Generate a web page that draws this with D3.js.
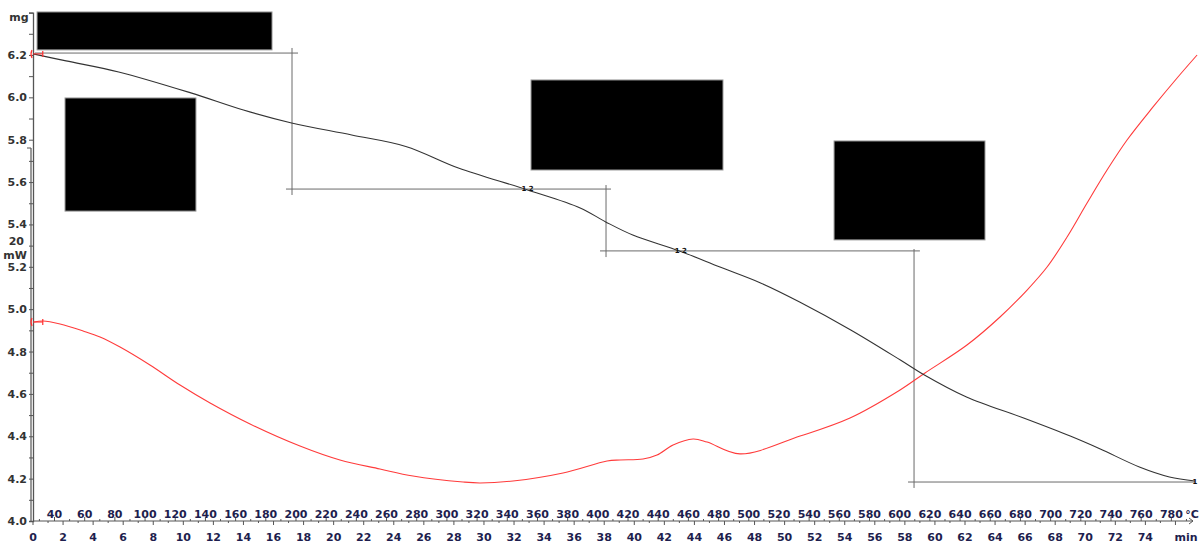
<!DOCTYPE html>
<html>
<head>
<meta charset="utf-8">
<script src="https://cdn.jsdelivr.net/npm/d3@7"></script>
<style>
  html, body { margin: 0; padding: 0; background: #fff; }
  svg { display: block; }
  text { font-family: "DejaVu Sans", Verdana, sans-serif; font-weight: bold; }
</style>
</head>
<body>
<svg id="chart" width="1199" height="543"></svg>
<script>
// ---- Data ----
// TGA curve: time (min) vs mass (mg)
const tgaTime = [0, 2.2, 5.7, 10.5, 14.0, 17.2, 21.2, 24.8, 28.3, 32.9, 36.4, 38.1, 39.9, 43.0, 45.7, 48.4, 51.0, 54.4, 57.7, 59.3, 62.1, 65.9, 69.0, 71.0, 73.6, 75.6, 77.3];
const tgaMass = [6.205, 6.172, 6.120, 6.021, 5.940, 5.879, 5.822, 5.768, 5.666, 5.563, 5.478, 5.412, 5.350, 5.275, 5.199, 5.124, 5.034, 4.902, 4.760, 4.689, 4.585, 4.486, 4.401, 4.340, 4.255, 4.208, 4.189];

// DSC curve: time (min) vs heat flow (mW)
const dscTime  = [0.07, 0.67, 1.80, 3.33, 4.46, 5.79, 7.78, 9.78, 11.78, 14.44, 17.76, 20.42, 23.08, 25.28, 28.61, 29.74, 31.93, 35.26, 38.19, 39.05, 40.58, 41.51, 42.58, 43.91, 44.84, 47.03, 51.03, 54.35, 57.68, 59.34, 62.13, 64.33, 66.13, 67.46, 68.79, 70.12, 71.45, 72.78, 74.51, 76.11, 77.44];
const dscPower = [11.68, 11.79, 11.47, 10.74, 10.11, 9.05, 7.16, 5.05, 3.16, 0.95, -1.37, -2.84, -3.79, -4.53, -5.16, -5.26, -5.05, -4.21, -2.95, -2.84, -2.74, -2.32, -1.26, -0.63, -0.95, -2.20, -0.32, 1.58, 4.53, 6.32, 9.26, 12.21, 15.05, 17.47, 20.63, 24.21, 27.68, 30.84, 34.32, 37.37, 39.79];

// Step evaluation lines (time in min, mass in mg)
const stepH = [ // horizontal: [mass, t0, t1]
  [6.209, 0.13, 17.63],
  [5.567, 16.83, 38.45],
  [5.275, 37.72, 59.00],
  [4.184, 58.21, 77.30]
];
const stepV = [ // vertical: [time, m0, m1]
  [17.23, 6.233, 5.539],
  [38.12, 5.586, 5.246],
  [58.61, 5.284, 4.156]
];
const stepMarks = [ // [time, mass, label]
  [32.9, 5.567, "1 2"],
  [43.1, 5.275, "1 2"],
  [77.3, 4.184, "1"]
];

// Redacted annotation boxes: [t0, t1, massTop, massBottom]
const boxes = [
  [0.27, 15.9, 6.403, 6.224],
  [2.13, 10.84, 5.997, 5.463],
  [33.13, 45.9, 6.082, 5.657],
  [53.29, 63.33, 5.794, 5.327]
];

// Tick values
const massTicks = d3.range(40, 65, 1).map(v => v / 10);   // every 0.1 mg
const massLabels = d3.range(40, 63, 2).map(v => v / 10);  // labelled every 0.2 mg
const timeTicks = d3.range(0, 77, 1);
const timeLabels = d3.range(0, 75, 2);
const tempTicks = d3.range(30, 791, 10);
const tempLabels = d3.range(40, 781, 20);
const powerLabels = [20];

// Heating programme: T = T0 + rate * t
const tempStart = 25.75, heatRate = 9.96;

// ---- Scales ----
const tMax = 77.5;
const x  = d3.scaleLinear().domain([0, tMax]).range([33, 1198]);
const xT = d3.scaleLinear().domain([tempStart, tempStart + heatRate * tMax]).range([33, 1198]);
const yM = d3.scaleLinear().domain([4.0, 6.4]).range([521, 12.6]);
const yW = d3.scaleLinear().domain([20, 30]).range([243, 148]);

const svg = d3.select("#chart");
svg.append("rect").attr("width", 1199).attr("height", 543).attr("fill", "#fff");

const axisCol = "#555";
const leftLab = "#333";
const botLab = "#1e1e4e";

// ---- Left mg axis ----
const gM = svg.append("g").attr("transform", `translate(${x(0)},0)`)
  .call(d3.axisLeft(yM).tickValues(massTicks).tickSize(4)
    .tickFormat(d => massLabels.some(v => Math.abs(v - d) < 1e-9) ? d3.format(".1f")(d) : ""));
gM.select(".domain").attr("stroke", axisCol).attr("stroke-width", 1.3);
gM.selectAll(".tick line").attr("stroke", axisCol);
gM.selectAll(".tick text").attr("fill", leftLab).attr("font-size", 11).attr("x", -6)
  .style("font-family", "DejaVu Sans").style("font-weight", "bold");
svg.append("text").attr("x", 19).attr("y", 21).attr("text-anchor", "middle")
  .attr("font-size", 11).attr("fill", leftLab).text("mg");

// ---- Left mW axis ----
const gW = svg.append("g").attr("transform", `translate(${x(0) - 2},0)`);
gW.append("line").attr("x1", 0).attr("x2", 0).attr("y1", yW(30)).attr("y2", 521)
  .attr("stroke", axisCol).attr("stroke-width", 1.2);
gW.append("line").attr("x1", -4).attr("x2", 0).attr("y1", yW(30)).attr("y2", yW(30)).attr("stroke", axisCol);
powerLabels.forEach(v => {
  gW.append("text").attr("x", -7).attr("y", yW(v) + 2).attr("text-anchor", "end")
    .attr("font-size", 11).attr("fill", leftLab).text(v);
});
svg.append("text").attr("x", 15).attr("y", yW(20) + 16).attr("text-anchor", "middle")
  .attr("font-size", 11).attr("fill", leftLab).text("mW");

// ---- Bottom axes ----
const yAxis = 521;
svg.append("line").attr("x1", x(0)).attr("x2", 1193).attr("y1", yAxis).attr("y2", yAxis)
  .attr("stroke", axisCol).attr("stroke-width", 1.2);
svg.append("path").attr("d", `M1189,${yAxis-3} L1193,${yAxis} L1189,${yAxis+3}`)
  .attr("fill", "none").attr("stroke", axisCol);

const gTime = svg.append("g").attr("transform", `translate(0,${yAxis})`);
gTime.selectAll("line").data(timeTicks).join("line")
  .attr("x1", d => x(d)).attr("x2", d => x(d)).attr("y1", 0).attr("y2", d => d % 2 === 0 ? 4 : 2)
  .attr("stroke", axisCol);
gTime.selectAll("text").data(timeLabels).join("text")
  .attr("x", d => x(d)).attr("y", 20).attr("text-anchor", "middle")
  .attr("font-size", 11).attr("fill", botLab).text(d => d);
svg.append("text").attr("x", 1186).attr("y", yAxis + 20).attr("text-anchor", "middle")
  .attr("font-size", 11).attr("fill", botLab).text("min");

const gTemp = svg.append("g").attr("transform", `translate(0,${yAxis})`);
gTemp.selectAll("line").data(tempTicks.filter(d => xT(d) <= 1188)).join("line")
  .attr("x1", d => xT(d)).attr("x2", d => xT(d)).attr("y1", 0).attr("y2", d => d % 20 === 0 ? -4 : -2)
  .attr("stroke", axisCol);
gTemp.selectAll("text").data(tempLabels).join("text")
  .attr("x", d => xT(d)).attr("y", -3).attr("text-anchor", "middle")
  .attr("font-size", 11).attr("fill", botLab).text(d => d);
svg.append("text").attr("x", 1192).attr("y", yAxis - 3).attr("text-anchor", "middle")
  .attr("font-size", 11).attr("fill", botLab).text("°C");

// ---- Step lines ----
const stepCol = "#6a6a6a";
svg.append("g").selectAll("line").data(stepH).join("line")
  .attr("x1", d => x(d[1])).attr("x2", d => x(d[2])).attr("y1", d => yM(d[0])).attr("y2", d => yM(d[0]))
  .attr("stroke", stepCol).attr("stroke-width", 1);
svg.append("g").selectAll("line").data(stepV).join("line")
  .attr("x1", d => x(d[0])).attr("x2", d => x(d[0])).attr("y1", d => yM(d[1])).attr("y2", d => yM(d[2]))
  .attr("stroke", stepCol).attr("stroke-width", 1);

// ---- Curves ----
const tga = tgaTime.map((t, i) => [t, tgaMass[i]]);
const dsc = dscTime.map((t, i) => [t, dscPower[i]]);

svg.append("path").datum(dsc)
  .attr("d", d3.line().x(d => x(d[0])).y(d => yW(d[1])).curve(d3.curveCatmullRom.alpha(0.5)))
  .attr("fill", "none").attr("stroke", "#ff3b3b").attr("stroke-width", 1.1);

svg.append("path").datum(tga)
  .attr("d", d3.line().x(d => x(d[0])).y(d => yM(d[1])).curve(d3.curveCatmullRom.alpha(0.5)))
  .attr("fill", "none").attr("stroke", "#333").attr("stroke-width", 1.1);

// start markers (red)
const red = "#ff3030";
[[0.0, yM(tgaMass[0])], [0.0, yW(dscPower[0])]].forEach(([t, yy]) => {
  svg.append("path").attr("d", `M${x(t) - 1},${yy - 4} Q${x(t) - 3},${yy} ${x(t) - 1},${yy + 4}`)
    .attr("fill", "none").attr("stroke", red).attr("stroke-width", 1.2);
  svg.append("line").attr("x1", x(t)).attr("x2", x(0.65)).attr("y1", yy).attr("y2", yy).attr("stroke", red);
  svg.append("line").attr("x1", x(0.65)).attr("x2", x(0.65)).attr("y1", yy - 3).attr("y2", yy + 3)
    .attr("stroke", red).attr("stroke-width", 1.2);
});

// step markers
svg.append("g").selectAll("text").data(stepMarks).join("text")
  .attr("x", d => x(d[0])).attr("y", d => yM(d[1]) + 2).attr("text-anchor", "middle")
  .attr("font-size", 7).attr("fill", "#111").text(d => d[2]);

// ---- Redacted annotation boxes ----
svg.append("g").selectAll("rect").data(boxes).join("rect")
  .attr("x", d => x(d[0])).attr("y", d => yM(d[2]))
  .attr("width", d => x(d[1]) - x(d[0])).attr("height", d => yM(d[3]) - yM(d[2]))
  .attr("fill", "#000").attr("stroke", "#999").attr("stroke-width", 1);
</script>
</body>
</html>
